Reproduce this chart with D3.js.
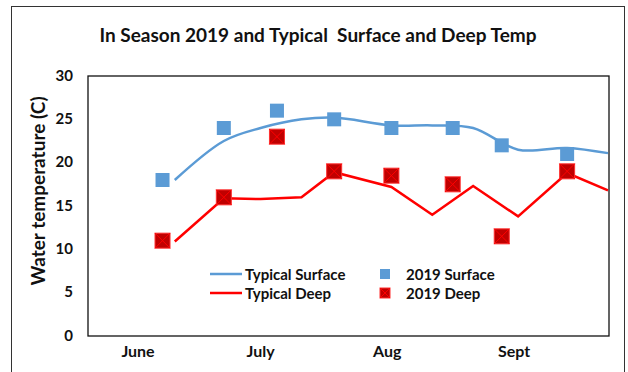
<!DOCTYPE html>
<html>
<head>
<meta charset="utf-8">
<script src="https://cdn.jsdelivr.net/npm/d3@7"></script>
<style>
  body { margin: 0; background: #fff; }
  text { font-family: Lato, "Open Sans", sans-serif; font-weight: bold; fill: #111; }
</style>
</head>
<body>
<div id="chart"></div>
<script>
// 2019 observations
var obsDates = ["2019-06-21", "2019-07-06", "2019-07-19", "2019-08-02", "2019-08-16", "2019-08-31", "2019-09-12", "2019-09-28"];
var surface2019 = [18, 24, 26, 25, 24, 24, 22, 21];
var deep2019 = [11, 16, 23, 19, 18.5, 17.5, 11.5, 19];

// typical season
var typDates = ["2019-06-24", "2019-07-06", "2019-07-15", "2019-07-25", "2019-08-02", "2019-08-16", "2019-08-26", "2019-09-05", "2019-09-16", "2019-09-28", "2019-10-08"];
var typSurface = [18.0, 22.5, 24.0, 25.0, 25.2, 24.3, 24.3, 24.0, 21.5, 21.7, 21.1];
var typDeep = [10.9, 15.9, 15.8, 16.0, 18.9, 17.2, 14.0, 17.3, 13.8, 18.8, 16.8];

var monthLabels = ["June", "July", "Aug", "Sept"];
var monthDates = ["2019-06-15", "2019-07-15", "2019-08-15", "2019-09-15"];
var yTicks = [0, 5, 10, 15, 20, 25, 30];

var W = 628, H = 372;
var plot = {left: 88, right: 609, top: 76, bottom: 336};
var parse = d3.timeParse("%Y-%m-%d");

var svg = d3.select("#chart").append("svg")
    .attr("width", W)
    .attr("height", H);

// outer frame
svg.append("rect")
    .attr("x", 11.5).attr("y", 6.5)
    .attr("width", 613).attr("height", 380)
    .attr("fill", "none").attr("stroke", "#333").attr("stroke-width", 1);

var x = d3.scaleTime()
    .domain([parse("2019-06-15"), parse("2019-09-15")])
    .range([138, 514]);
var y = d3.scaleLinear().domain([0, 30]).range([plot.bottom, plot.top]);

svg.append("defs").append("clipPath").attr("id", "clip")
  .append("rect")
    .attr("x", plot.left).attr("y", plot.top)
    .attr("width", plot.right - plot.left).attr("height", plot.bottom - plot.top);

// plot frame
svg.append("rect")
    .attr("x", plot.left).attr("y", plot.top)
    .attr("width", plot.right - plot.left).attr("height", plot.bottom - plot.top)
    .attr("fill", "none").attr("stroke", "#111").attr("stroke-width", 1.3);

// title
svg.append("text")
    .attr("x", 318).attr("y", 42)
    .attr("text-anchor", "middle")
    .style("font-size", "19px")
    .attr("xml:space", "preserve")
    .text("In Season 2019 and Typical  Surface and Deep Temp");

// y axis labels
svg.selectAll(".ytick").data(yTicks).enter().append("text")
    .attr("class", "ytick")
    .attr("x", 73).attr("y", function(d) { return y(d) + 4.5; })
    .attr("text-anchor", "end")
    .style("font-size", "15px")
    .text(function(d) { return d; });

svg.append("text")
    .attr("transform", "translate(45,191) rotate(-90)")
    .attr("text-anchor", "middle")
    .style("font-size", "19px")
    .text("Water temperature (C)");

// month labels
svg.selectAll(".month").data(monthLabels).enter().append("text")
    .attr("class", "month")
    .attr("x", function(d, i) { return x(parse(monthDates[i])); })
    .attr("y", 357)
    .attr("text-anchor", "middle")
    .style("font-size", "16px")
    .text(function(d) { return d; });

var g = svg.append("g").attr("clip-path", "url(#clip)");

var typS = typDates.map(function(d, i) { return [parse(d), typSurface[i]]; });
var typD = typDates.map(function(d, i) { return [parse(d), typDeep[i]]; });

g.append("path")
    .attr("d", d3.line().x(function(d) { return x(d[0]); }).y(function(d) { return y(d[1]); })
      .curve(d3.curveCatmullRom.alpha(0.5))(typS))
    .attr("fill", "none").attr("stroke", "#5B9BD5").attr("stroke-width", 2.5);

g.append("path")
    .attr("d", d3.line().x(function(d) { return x(d[0]); }).y(function(d) { return y(d[1]); })(typD))
    .attr("fill", "none").attr("stroke", "#FF0000").attr("stroke-width", 2.5)
    .attr("stroke-linejoin", "miter");

function deepMarker(sel, cx, cy, s) {
  var h = s / 2;
  sel.append("rect")
    .attr("x", cx - h).attr("y", cy - h).attr("width", s).attr("height", s)
    .attr("fill", "#C00000").attr("stroke", "#FF3030").attr("stroke-width", 1);
  sel.append("path")
    .attr("d", "M" + (cx - h) + "," + (cy - h) + "L" + (cx + h) + "," + (cy + h) +
               "M" + (cx + h) + "," + (cy - h) + "L" + (cx - h) + "," + (cy + h))
    .attr("stroke", "#FF0000").attr("stroke-width", 1);
}

// 2019 surface squares
svg.selectAll(".sq").data(surface2019).enter().append("rect")
    .attr("class", "sq")
    .attr("x", function(d, i) { return x(parse(obsDates[i])) - 7; })
    .attr("y", function(d) { return y(d) - 7; })
    .attr("width", 14).attr("height", 14)
    .attr("fill", "#5B9BD5");

// 2019 deep markers
deep2019.forEach(function(d, i) {
  deepMarker(svg, x(parse(obsDates[i])), y(d), 15);
});

// legend
var leg = svg.append("g");
leg.append("line").attr("x1", 210).attr("x2", 242).attr("y1", 274).attr("y2", 274)
    .attr("stroke", "#5B9BD5").attr("stroke-width", 2.5);
leg.append("line").attr("x1", 210).attr("x2", 242).attr("y1", 293).attr("y2", 293)
    .attr("stroke", "#FF0000").attr("stroke-width", 2.5);
leg.append("text").attr("x", 245).attr("y", 279.5).style("font-size", "15px").text("Typical Surface");
leg.append("text").attr("x", 245).attr("y", 298.5).style("font-size", "15px").text("Typical Deep");
leg.append("rect").attr("x", 380).attr("y", 269).attr("width", 10).attr("height", 10).attr("fill", "#5B9BD5");
deepMarker(leg, 385, 293, 10);
leg.append("text").attr("x", 406).attr("y", 279.5).style("font-size", "15px").text("2019 Surface");
leg.append("text").attr("x", 406).attr("y", 298.5).style("font-size", "15px").text("2019 Deep");
</script>
</body>
</html>
